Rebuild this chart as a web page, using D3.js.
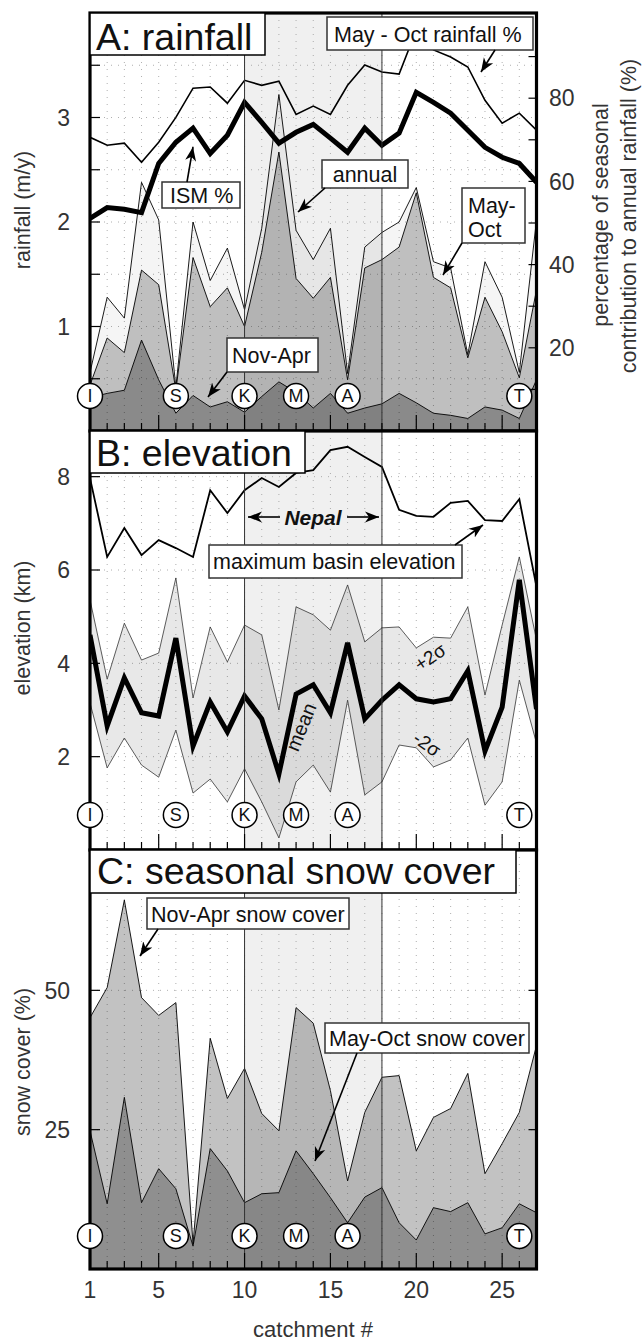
<!DOCTYPE html>
<html><head><meta charset="utf-8">
<script src="https://cdn.jsdelivr.net/npm/d3@7"></script>
<style>
body{margin:0;background:#fff}
svg{display:block}
text{font-family:"Liberation Sans",Arial,Helvetica,sans-serif}
</style>
</head><body>
<svg id="c" width="642" height="1341"></svg>
<script>
// ---------------- data ----------------
const catchments = d3.range(1, 28);
const rainAnnual = [0.56,1.28,1.08,2.38,2.02,0.42,2.00,1.44,1.75,1.16,1.94,3.22,1.92,1.64,1.94,0.55,1.76,1.90,2.00,2.33,1.62,1.56,0.73,1.62,1.28,0.56,2.02];
const rainMayOct = [0.44,0.89,0.75,1.54,1.40,0.39,1.66,1.19,1.37,1.00,1.71,2.67,1.46,1.27,1.47,0.49,1.56,1.64,1.76,2.28,1.47,1.37,0.70,1.28,0.95,0.51,1.35];
const rainNovApr = [0.32,0.36,0.39,0.87,0.49,0.17,0.34,0.23,0.28,0.18,0.33,0.47,0.37,0.22,0.36,0.17,0.22,0.26,0.36,0.27,0.17,0.15,0.12,0.23,0.20,0.12,0.49];
const pctMayOct = [70.6,68.7,69.2,64.6,69.4,75.4,82.4,82.7,78.8,84.3,83.1,84.1,76.1,78.1,76.1,83.1,88.0,86.3,85.8,96.4,91.6,89.9,87.5,79.5,74.0,76.4,72.3];
const pctISM = [51.1,53.7,53.3,52.5,64.3,69.4,72.8,66.7,71.1,79.0,74.2,69.2,71.8,73.7,70.4,67.0,72.8,68.7,71.6,81.4,79.0,76.4,72.3,68.2,65.8,64.3,59.8];
const elevMax = [7.97,6.28,6.90,6.32,6.64,6.47,6.28,7.71,7.22,7.71,7.97,7.78,8.08,8.14,8.57,8.64,8.42,8.21,7.29,7.16,7.14,7.44,7.48,7.07,7.05,7.52,5.64];
const elevMean = [4.61,2.66,3.69,2.94,2.87,4.54,2.23,3.17,2.53,3.30,2.81,1.63,3.34,3.54,2.94,4.44,2.81,3.21,3.54,3.24,3.17,3.24,3.84,2.12,3.06,5.79,3.02];
const elevPlus2 = [5.36,3.66,4.86,4.07,4.22,5.83,3.26,4.78,4.03,4.82,4.61,3.00,5.21,5.04,4.71,5.68,4.46,4.76,4.78,4.33,4.56,4.54,5.21,3.32,4.82,6.28,4.50];
const elevMinus2 = [3.15,1.76,2.40,1.82,1.56,2.57,1.22,1.52,1.03,1.74,1.03,0.26,1.46,1.82,1.24,3.21,1.18,1.46,2.25,2.19,1.78,1.93,2.40,0.96,1.46,3.64,2.29];
const snowNovApr = [45.1,50.5,66.2,48.7,45.5,47.8,4.5,41.4,30.6,36.0,27.9,24.8,46.9,44.1,32.0,15.8,28.1,34.4,34.7,21.2,27.2,28.8,35.1,17.1,22.5,28.1,40.1];
const snowMayOct = [24.8,11.7,30.8,11.9,18.0,14.4,4.1,21.6,17.6,11.9,13.5,13.7,21.2,17.1,12.8,8.3,12.9,14.6,8.3,5.2,11.0,10.3,11.9,6.3,7.4,11.7,10.1];
const siteCatchments = [1,6,10,13,16,26];
const siteLabels = ["I","S","K","M","A","T"];
const nepalRange = [10,18];
const xTickLabels = [1,5,10,15,20,25];
const rainTicks = [1,2,3];
const pctTicks = [20,40,60,80];
const elevTicks = [2,4,6,8];
const snowTicks = [25,50];

// ---------------- layout ----------------
const svg = d3.select("#c");
const L = 90, R = 536.5;
const x = d3.scaleLinear().domain([1,27]).range([L,R]);
const panels = [
  {top:13, bottom:431},
  {top:431, bottom:850},
  {top:850, bottom:1269}
];
const yA = d3.scaleLinear().domain([0,4]).range([431,13]);
const yP = d3.scaleLinear().domain([0,100]).range([431,15]);
const yB = d3.scaleLinear().domain([0,9]).range([850,430]);
const yC = d3.scaleLinear().domain([0,75]).range([1269,851]);

const defs = svg.append("defs");
defs.append("marker").attr("id","ah").attr("viewBox","-14 -6 15 12")
  .attr("refX",0).attr("refY",0).attr("markerWidth",15).attr("markerHeight",12)
  .attr("markerUnits","userSpaceOnUse").attr("orient","auto")
  .append("path").attr("d","M0,0 L-14,-5.5 L-10,0 L-14,5.5 Z").attr("fill","#000");

panels.forEach((p,i)=>{
  defs.append("clipPath").attr("id","clip"+i).append("rect")
    .attr("x",L).attr("y",p.top).attr("width",R-L).attr("height",p.bottom-p.top);
});

function panelBase(i, yScale, gridVals){
  const p = panels[i];
  const g = svg.append("g");
  g.append("rect").attr("x",L).attr("y",p.top).attr("width",R-L).attr("height",p.bottom-p.top).attr("fill","#fff");
  g.append("rect").attr("x",x(nepalRange[0])).attr("y",p.top).attr("width",x(nepalRange[1])-x(nepalRange[0]))
    .attr("height",p.bottom-p.top).attr("fill","#f0f0f0");
  const grid = g.append("g").attr("stroke","#9a9a9a").attr("stroke-width",0.8).attr("stroke-dasharray","1,6");
  grid.selectAll(".v").data(catchments.slice(1,-1)).join("line")
    .attr("x1",d=>x(d)).attr("x2",d=>x(d)).attr("y1",p.top).attr("y2",p.bottom);
  grid.selectAll(".h").data(gridVals).join("line")
    .attr("x1",L).attr("x2",R).attr("y1",d=>yScale(d)).attr("y2",d=>yScale(d));
  const content = svg.append("g").attr("clip-path","url(#clip"+i+")");
  return content;
}

function panelTop(i, leftTicks, yScale, rightTicks, rScale){
  const p = panels[i];
  const g = svg.append("g");
  g.selectAll(".nb").data(nepalRange).join("line")
    .attr("x1",d=>x(d)).attr("x2",d=>x(d)).attr("y1",p.top).attr("y2",p.bottom)
    .attr("stroke","#333").attr("stroke-width",1);
  g.selectAll(".bt").data(catchments.slice(1,-1)).join("line")
    .attr("x1",d=>x(d)).attr("x2",d=>x(d)).attr("y1",p.bottom)
    .attr("y2",d=>p.bottom-(d%5===0?16:8)).attr("stroke","#000").attr("stroke-width",1.2);
  g.selectAll(".lt").data(leftTicks).join("line")
    .attr("x1",L).attr("x2",L+10).attr("y1",d=>yScale(d)).attr("y2",d=>yScale(d))
    .attr("stroke","#000").attr("stroke-width",1.2);
  if(rightTicks){
    g.selectAll(".rt").data(rightTicks).join("line")
      .attr("x1",R).attr("x2",R-8).attr("y1",d=>rScale(d)).attr("y2",d=>rScale(d))
      .attr("stroke","#000").attr("stroke-width",1.2);
  }
  return g;
}

function sites(i){
  const p = panels[i];
  const cy = p.bottom - 35 + (i===2?2:0);
  const sg = svg.append("g").selectAll(".site").data(siteCatchments).join("g");
  sg.append("circle").attr("cx",d=>x(d)).attr("cy",cy).attr("r",12.5)
    .attr("fill","#fff").attr("stroke","#000").attr("stroke-width",1.5);
  sg.append("text").attr("x",d=>x(d)).attr("y",cy).attr("dy","0.36em")
    .attr("text-anchor","middle").attr("font-size",18).attr("fill","#111")
    .text((d,k)=>siteLabels[k]);
}

function frame(i){
  const p = panels[i];
  svg.append("rect").attr("x",L).attr("y",p.top).attr("width",R-L).attr("height",p.bottom-p.top)
    .attr("fill","none").attr("stroke","#000").attr("stroke-width",3.2);
}

function labelBox(g, x0, y0, x1, y1, lines, tx, baselines, size, opts={}){
  g.append("rect").attr("x",x0).attr("y",y0).attr("width",x1-x0).attr("height",y1-y0)
    .attr("fill","#fff").attr("stroke",opts.stroke||"#333").attr("stroke-width",opts.sw||1.5);
  lines.forEach((t,k)=>{
    g.append("text").attr("x",tx).attr("y",baselines[k]).attr("font-size",size)
      .attr("fill","#111").attr("text-anchor",opts.anchor||"start").text(t);
  });
}
function arrow(g, x1,y1,x2,y2){
  g.append("line").attr("x1",x1).attr("y1",y1).attr("x2",x2).attr("y2",y2)
    .attr("stroke","#000").attr("stroke-width",1.6).attr("marker-end","url(#ah)");
}

// ---------------- Panel A ----------------
{
  const c = panelBase(0, yA, d3.range(0.5,4,0.5));
  const area = vals => d3.area().x((d,k)=>x(catchments[k])).y0(yA(0)).y1(d=>yA(d))(vals);
  const line = (vals, s) => d3.line().x((d,k)=>x(catchments[k])).y(d=>s(d))(vals);
  c.append("path").attr("d",area(rainAnnual)).attr("fill","#000").attr("fill-opacity",0.04)
    .attr("stroke","#000").attr("stroke-width",0.9);
  c.append("path").attr("d",area(rainMayOct)).attr("fill","#000").attr("fill-opacity",0.22)
    .attr("stroke","#000").attr("stroke-width",0.9);
  c.append("path").attr("d",area(rainNovApr)).attr("fill","#000").attr("fill-opacity",0.28)
    .attr("stroke","#000").attr("stroke-width",0.9);
  c.append("path").attr("d",line(pctMayOct,yP)).attr("fill","none").attr("stroke","#000").attr("stroke-width",1.6);
  c.append("path").attr("d",line(pctISM,yP)).attr("fill","none").attr("stroke","#000").attr("stroke-width",5)
    .attr("stroke-linejoin","miter");
  const t = panelTop(0, d3.range(0.5,4,0.5), yA, d3.range(10,100,10), yP);
  frame(0);
  sites(0);
  const a = svg.append("g");
  labelBox(a, 90, 13, 265, 55, ["A: rainfall"], 96, [50], 37.5, {stroke:"#000"});
  labelBox(a, 327, 17, 533, 50, ["May - Oct rainfall %"], 334, [42], 21.5);
  arrow(a, 495, 50, 481, 72);
  labelBox(a, 162, 182, 240, 208, ["ISM %"], 170, [203], 21.5);
  arrow(a, 187, 182, 193, 147);
  labelBox(a, 322, 160, 408, 188, ["annual"], 365, [182], 21.5, {anchor:"middle"});
  arrow(a, 325, 188, 298, 212);
  labelBox(a, 462, 188, 525, 243, ["May-","Oct"], 468, [213, 237], 21.5);
  arrow(a, 462, 243, 443, 275);
  labelBox(a, 227, 338, 318, 372, ["Nov-Apr"], 232, [363], 21.5);
  arrow(a, 227, 372, 208, 397);
}

// ---------------- Panel B ----------------
{
  const c = panelBase(1, yB, elevTicks);
  const band = d3.area().x((d,k)=>x(catchments[k])).y0((d,k)=>yB(elevMinus2[k])).y1(d=>yB(d))(elevPlus2);
  const line = vals => d3.line().x((d,k)=>x(catchments[k])).y(d=>yB(d))(vals);
  c.append("path").attr("d",band).attr("fill","#000").attr("fill-opacity",0.09);
  c.append("path").attr("d",line(elevPlus2)).attr("fill","none").attr("stroke","#333").attr("stroke-width",0.8);
  c.append("path").attr("d",line(elevMinus2)).attr("fill","none").attr("stroke","#333").attr("stroke-width",0.8);
  c.append("path").attr("d",line(elevMax)).attr("fill","none").attr("stroke","#000").attr("stroke-width",1.8);
  c.append("path").attr("d",line(elevMean)).attr("fill","none").attr("stroke","#000").attr("stroke-width",5);
  const t = panelTop(1, elevTicks, yB);
  frame(1);
  sites(1);
  const a = svg.append("g");
  labelBox(a, 90, 431, 305, 473, ["B: elevation"], 96, [466], 37.5, {stroke:"#000"});
  labelBox(a, 209, 545, 462, 578, ["maximum basin elevation"], 213, [569], 21.5);
  arrow(a, 455, 545, 483, 525);
  a.append("text").attr("x",313).attr("y",525).attr("text-anchor","middle").attr("font-size",21)
    .attr("font-weight","bold").attr("font-style","italic").attr("fill","#111").text("Nepal");
  arrow(a, 280, 517, 248, 517);
  arrow(a, 347, 517, 379, 517);
  a.append("text").attr("transform","translate(301,727) rotate(-68)").attr("text-anchor","middle")
    .attr("dy","0.35em").attr("font-size",20).attr("fill","#111").text("mean");
  a.append("text").attr("transform","translate(430,657) rotate(-34)").attr("text-anchor","middle")
    .attr("dy","0.35em").attr("font-size",19).attr("fill","#111").text("+2σ");
  a.append("text").attr("transform","translate(427,744) rotate(35)").attr("text-anchor","middle")
    .attr("dy","0.35em").attr("font-size",19).attr("fill","#111").text("-2σ");
}

// ---------------- Panel C ----------------
{
  const c = panelBase(2, yC, snowTicks);
  const area = vals => d3.area().x((d,k)=>x(catchments[k])).y0(yC(0)).y1(d=>yC(d))(vals);
  c.append("path").attr("d",area(snowNovApr)).attr("fill","#000").attr("fill-opacity",0.24)
    .attr("stroke","#000").attr("stroke-width",0.9);
  c.append("path").attr("d",area(snowMayOct)).attr("fill","#000").attr("fill-opacity",0.26)
    .attr("stroke","#000").attr("stroke-width",0.9);
  const t = panelTop(2, snowTicks, yC, snowTicks, yC);
  frame(2);
  sites(2);
  const a = svg.append("g");
  labelBox(a, 90, 850, 516, 893, ["C: seasonal snow cover"], 97, [884], 37.5, {stroke:"#000"});
  labelBox(a, 147, 898, 349, 929, ["Nov-Apr snow cover"], 151, [922], 21.5);
  arrow(a, 158, 929, 140, 956);
  labelBox(a, 325, 1023, 529, 1053, ["May-Oct snow cover"], 329, [1046], 21.5);
  arrow(a, 357, 1053, 315, 1161);
}

// ---------------- axes labels ----------------
const ax = svg.append("g").attr("fill","#333");
ax.selectAll(".xl").data(xTickLabels).join("text")
  .attr("x",d=>x(d)).attr("y",1298).attr("text-anchor","middle").attr("font-size",23).text(d=>d);
ax.append("text").attr("x",313).attr("y",1337).attr("text-anchor","middle").attr("font-size",22).text("catchment #");
ax.selectAll(".ra").data(rainTicks).join("text")
  .attr("x",70).attr("y",d=>yA(d)).attr("dy","0.36em").attr("text-anchor","end").attr("font-size",23).text(d=>d);
ax.selectAll(".pa").data(pctTicks).join("text")
  .attr("x",549).attr("y",d=>yP(d)).attr("dy","0.36em").attr("text-anchor","start").attr("font-size",23).text(d=>d);
ax.selectAll(".ea").data(elevTicks).join("text")
  .attr("x",70).attr("y",d=>yB(d)).attr("dy","0.36em").attr("text-anchor","end").attr("font-size",23).text(d=>d);
ax.selectAll(".sa").data(snowTicks).join("text")
  .attr("x",70).attr("y",d=>yC(d)).attr("dy","0.36em").attr("text-anchor","end").attr("font-size",23).text(d=>d);
function vtitle(txt, cx, cy, size){
  ax.append("text").attr("transform",`translate(${cx},${cy}) rotate(-90)`).attr("text-anchor","middle")
    .attr("dy","0.35em").attr("font-size",size).text(txt);
}
vtitle("rainfall (m/y)", 22, 210, 21.5);
vtitle("elevation (km)", 22, 628, 21.5);
vtitle("snow cover (%)", 22, 1062, 21.5);
vtitle("percentage of seasonal", 600, 215, 21.5);
vtitle("contribution to annual rainfall (%)", 628, 216, 21.5);
</script>
</body></html>
